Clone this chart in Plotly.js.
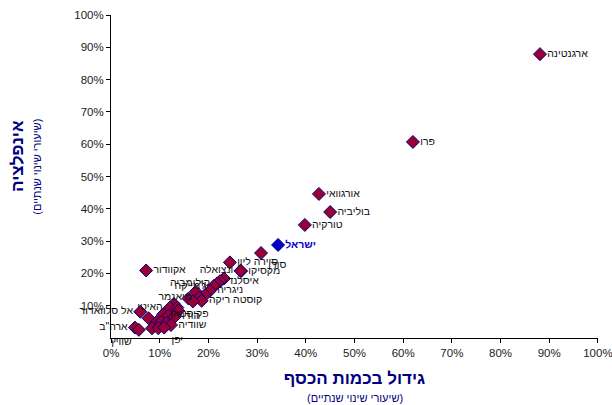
<!DOCTYPE html>
<html>
<head>
<meta charset="utf-8">
<script src="https://cdn.plot.ly/plotly-3.0.1.min.js"></script>
<style>html,body{margin:0;padding:0;background:#fff;}#chart{width:612px;height:405px;}</style>
</head>
<body>
<div id="chart"></div>
<script>
// Country labels ("" = unlabelled point)
const countries = [
  "ארגנטינה","פרו","אורגוואי","בוליביה","טורקיה","ישראל","סודן","סיירה ליון","מקסיקו","אקוודור",
  "","איסלנד","קולומביה","ג'מייקה","ניגריה","","","מיאנמר","קוסטה ריקה","",
  "","","האיטי","","","אל סלוואדור","","פקיסטאן","","הודו",
  "","","","שוודיה","ארה\"ב","שוויץ","","","יפן","ונצואלה"
];
// Growth in money supply (annual rate, %)
const moneyGrowth = [
  88.1, 62.0, 42.7, 45.0, 39.8, 34.3, 30.8, 24.4, 26.7, 7.2,
  23.2, 22.4, 21.8, 21.1, 20.3, 17.4, 19.3, 18.1, 18.6, 15.9,
  16.8, 12.9, 12.1, 13.6, 13.8, 6.0, 7.7, 10.7, 11.8, 13.1,
  9.4, 10.3, 11.4, 12.3, 4.9, 5.7, 8.4, 9.7, 10.9, 26.6
];
// Inflation (annual rate, %)
const inflation = [
  87.9, 60.7, 44.6, 39.0, 35.0, 28.8, 26.3, 23.4, 20.7, 20.9,
  18.4, 17.6, 16.9, 16.1, 14.6, 14.3, 13.3, 12.5, 11.5, 12.2,
  11.3, 10.5, 9.4, 9.4, 8.4, 8.1, 6.1, 7.3, 6.9, 6.6,
  5.0, 4.9, 4.6, 4.0, 3.2, 2.5, 3.0, 3.0, 3.2, 20.8
];
const xTicks = [0,10,20,30,40,50,60,70,80,90,100];
const yTicks = [10,20,30,40,50,60,70,80,90,100];

const highlight = "ישראל";

// label placement (styling only)
const labelPos = {
  "ונצואלה":"middle left","קולומביה":"middle left","ג'מייקה":"middle left","מיאנמר":"middle left",
  "האיטי":"middle left","אל סלוואדור":"middle left","ארה\"ב":"middle left","שוויץ":"bottom left",
  "יפן":"bottom right","סודן":"bottom right"
};

const idxOther = countries.map((c,i)=>i).filter(i=>countries[i]!==highlight);
const idxHi = countries.map((c,i)=>i).filter(i=>countries[i]===highlight);

const labelFont = 'Arial, Liberation Sans, sans-serif';

const traceOthers = {
  type:'scatter', mode:'markers+text',
  x: idxOther.map(i=>moneyGrowth[i]/100),
  y: idxOther.map(i=>inflation[i]/100),
  text: idxOther.map(i=>countries[i]),
  textposition: idxOther.map(i=>labelPos[countries[i]]||'middle right'),
  textfont:{family:labelFont, size:10.5, color:'#111'},
  marker:{symbol:'diamond', size:10, color:'#990033', line:{color:'#000080', width:1}},
  cliponaxis:false, hoverinfo:'skip', showlegend:false
};
const traceHi = {
  type:'scatter', mode:'markers+text',
  x: idxHi.map(i=>moneyGrowth[i]/100),
  y: idxHi.map(i=>inflation[i]/100),
  text: idxHi.map(i=>'<b>'+countries[i]+'</b>'),
  textposition:'middle right',
  textfont:{family:labelFont, size:10.5, color:'#0000CC'},
  marker:{symbol:'diamond', size:10, color:'#0000CC', line:{color:'#000080', width:1}},
  cliponaxis:false, hoverinfo:'skip', showlegend:false
};

const tickFont = {family:labelFont, size:11.5, color:'#222'};
const navy = '#000080';

const layout = {
  width:612, height:405,
  margin:{l:111, r:14, t:15, b:67},
  paper_bgcolor:'#fff', plot_bgcolor:'#fff',
  xaxis:{
    range:[-0.0002,1.0002], tickvals:xTicks.map(v=>v/100), ticktext:xTicks.map(v=>v+'%'),
    showgrid:false, zeroline:false, showline:true, linecolor:'#000', linewidth:1,
    ticks:'outside', ticklen:4, tickcolor:'#000', tickfont:tickFont, ticklabeloverflow:'allow',
    title:{text:'<b>גידול בכמות הכסף</b>', font:{family:labelFont, size:17, color:navy}, standoff:14}
  },
  yaxis:{
    range:[-0.0002,1.0002], tickvals:yTicks.map(v=>v/100), ticktext:yTicks.map(v=>v+'%'),
    showgrid:false, zeroline:false, showline:true, linecolor:'#000', linewidth:1,
    ticks:'outside', ticklen:4, tickcolor:'#000', tickfont:tickFont, ticklabeloverflow:'allow',
    title:{text:''}
  },
  annotations:[
    {xref:'paper', yref:'paper', x:0.5, y:-0.186, xanchor:'center', yanchor:'middle', showarrow:false,
     text:'(שיעורי שינוי שנתיים)', font:{family:labelFont, size:11, color:navy}},
    {xref:'paper', yref:'paper', x:-0.192, y:0.565, xanchor:'center', yanchor:'middle', showarrow:false, textangle:-90,
     text:'<b>אינפלציה</b>', font:{family:labelFont, size:17, color:navy}},
    {xref:'paper', yref:'paper', x:-0.152, y:0.53, xanchor:'center', yanchor:'middle', showarrow:false, textangle:-90,
     text:'(שיעורי שינוי שנתיים)', font:{family:labelFont, size:11, color:navy}}
  ]
};

Plotly.newPlot('chart', [traceOthers, traceHi], layout, {displayModeBar:false, staticPlot:true});
</script>
</body>
</html>
